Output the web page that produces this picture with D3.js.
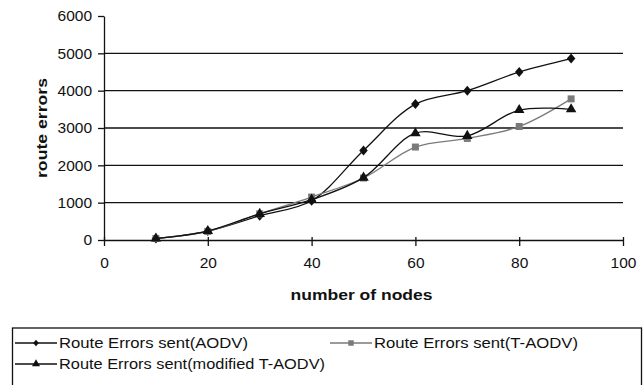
<!DOCTYPE html>
<html>
<head>
<meta charset="utf-8">
<script src="https://cdn.jsdelivr.net/npm/d3@7"></script>
<style>
  body { margin: 0; background: #fff; }
  svg { display: block; font-family: "Liberation Sans", Arial, sans-serif; }
</style>
</head>
<body>
<div id="chart"></div>
<script>
// Route errors vs number of nodes

const nodes = [10, 20, 30, 40, 50, 60, 70, 80, 90];
const aodv = [40, 240, 650, 1050, 2400, 3640, 4000, 4500, 4860];
const tAodv = [40, 230, 700, 1150, 1660, 2490, 2720, 3040, 3780];
const modTAodv = [40, 240, 700, 1080, 1670, 2860, 2790, 3480, 3500];
const yTicks = [0, 1000, 2000, 3000, 4000, 5000, 6000];
const xTicks = [0, 20, 40, 60, 80, 100];

const seriesNames = [
  "Route Errors sent(AODV)",
  "Route Errors sent(T-AODV)",
  "Route Errors sent(modified T-AODV)"
];

const W = 643, H = 385;
const margin = { top: 16, left: 104 };
const plotW = 623 - margin.left;
const plotH = 240 - margin.top;

const svg = d3.select("#chart").append("svg")
  .attr("width", W)
  .attr("height", H);

const g = svg.append("g")
  .attr("transform", `translate(${margin.left},${margin.top})`);

const x = d3.scaleLinear().domain([0, 100]).range([0, plotW]);
const y = d3.scaleLinear().domain([0, 6000]).range([plotH, 0]);

// diamond drawn as a rotated square-ish shape
const diamond = {
  draw(ctx, size) {
    const h = Math.sqrt(size) / 2;
    const w = h * 0.85;
    ctx.moveTo(0, -h);
    ctx.lineTo(w, 0);
    ctx.lineTo(0, h);
    ctx.lineTo(-w, 0);
    ctx.closePath();
  }
};

// gridlines
g.selectAll(".grid")
  .data(yTicks.filter(d => d > 0 && d < 6000))
  .join("line")
  .attr("x1", 0)
  .attr("x2", plotW)
  .attr("y1", d => y(d))
  .attr("y2", d => y(d))
  .attr("stroke", "#111")
  .attr("stroke-width", 1.3);

// axes
const yAxis = g.append("g")
  .call(d3.axisLeft(y).tickValues(yTicks).tickFormat(d3.format("d"))
    .tickSize(6).tickPadding(6).tickSizeOuter(0));
const xAxis = g.append("g")
  .attr("transform", `translate(0,${plotH})`)
  .call(d3.axisBottom(x).tickValues(xTicks).tickFormat(d3.format("d"))
    .tickSize(6).tickPadding(11).tickSizeOuter(0));

[yAxis, xAxis].forEach(a => {
  a.select(".domain").attr("stroke", "#111").attr("stroke-width", 1.3);
  a.selectAll(".tick line").attr("stroke", "#111").attr("stroke-width", 1.3);
  a.selectAll(".tick text")
    .attr("font-size", "15.5px")
    .attr("fill", "#111")
    .attr("font-family", "'Liberation Sans', Arial, sans-serif");
});
xAxis.selectAll(".tick line").attr("y1", -3);

// axis titles
g.append("text")
  .attr("x", plotW / 2 - 2)
  .attr("y", 295 - margin.top)
  .attr("dy", "0.35em")
  .attr("text-anchor", "middle")
  .attr("font-size", "15px")
  .attr("font-weight", "bold")
  .attr("fill", "#111")
  .attr("textLength", 142)
  .attr("lengthAdjust", "spacingAndGlyphs")
  .text("number of nodes");

g.append("text")
  .attr("transform", `translate(${42 - margin.left},${128 - margin.top}) rotate(-90)`)
  .attr("text-anchor", "middle")
  .attr("dy", "0.35em")
  .attr("font-size", "15px")
  .attr("font-weight", "bold")
  .attr("fill", "#111")
  .attr("textLength", 100)
  .attr("lengthAdjust", "spacingAndGlyphs")
  .text("route errors");

// series
const series = [
  { name: seriesNames[0], values: aodv, color: "#111", marker: diamond, size: 100, lsize: 45, tl: 189 },
  { name: seriesNames[1], values: tAodv, color: "#7a7a7a", marker: d3.symbolSquare, size: 49, lsize: 30, tl: 204 },
  { name: seriesNames[2], values: modTAodv, color: "#111", marker: d3.symbolTriangle, size: 48, lsize: 28, tl: 266 }
];

const line = d3.line()
  .x((d, i) => x(nodes[i]))
  .y(d => y(d))
  .curve(d3.curveCatmullRom.alpha(0.5));

series.forEach(s => {
  g.append("path")
    .datum(s.values)
    .attr("d", line)
    .attr("fill", "none")
    .attr("stroke", s.color)
    .attr("stroke-width", 1.3);

  g.selectAll(null)
    .data(s.values)
    .join("path")
    .attr("transform", (d, i) => `translate(${x(nodes[i])},${y(d)})`)
    .attr("d", d3.symbol().type(s.marker).size(s.size))
    .attr("fill", s.color);
});

// legend
const legend = svg.append("g");
legend.append("rect")
  .attr("x", 12.5)
  .attr("y", 328)
  .attr("width", 629)
  .attr("height", 70)
  .attr("fill", "none")
  .attr("stroke", "#111")
  .attr("stroke-width", 1.3);

const legendPos = [
  { x: 15, y: 343 },
  { x: 330, y: 343 },
  { x: 15, y: 364 }
];

series.forEach((s, i) => {
  const p = legendPos[i];
  const lg = legend.append("g").attr("transform", `translate(${p.x},${p.y})`);
  lg.append("line")
    .attr("x1", 0).attr("x2", 42)
    .attr("y1", 0).attr("y2", 0)
    .attr("stroke", s.color)
    .attr("stroke-width", 1.3);
  lg.append("path")
    .attr("transform", "translate(21,0)")
    .attr("d", d3.symbol().type(s.marker).size(s.lsize))
    .attr("fill", s.color);
  lg.append("text")
    .attr("x", 44)
    .attr("dy", "0.35em")
    .attr("font-size", "15px")
    .attr("fill", "#111")
    .attr("textLength", s.tl)
    .attr("lengthAdjust", "spacingAndGlyphs")
    .text(s.name);
});
</script>
</body>
</html>
